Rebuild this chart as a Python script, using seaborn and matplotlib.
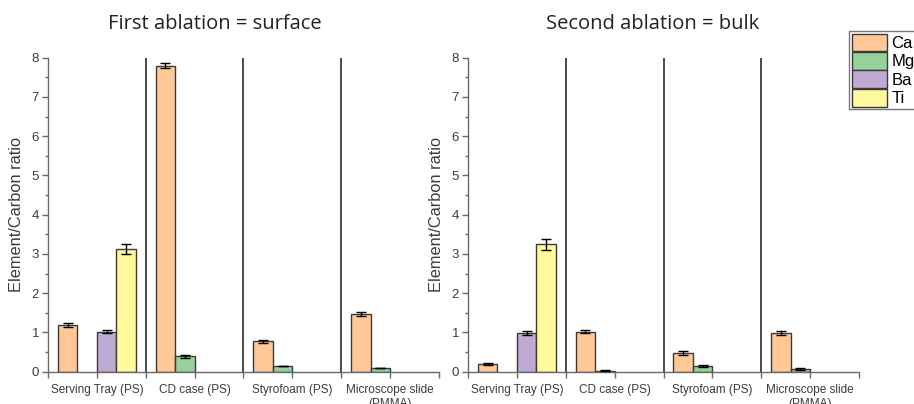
import numpy as np
import pandas as pd
import matplotlib
matplotlib.use("Agg")
import matplotlib.pyplot as plt
import seaborn as sns
from matplotlib.patches import Patch
from matplotlib.ticker import MultipleLocator, FixedLocator

nan = np.nan
materials = ["Serving Tray (PS)", "CD case (PS)", "Styrofoam (PS)", "Microscope slide\n(PMMA)"]
elements = ["Ca", "Mg", "Ba", "Ti"]
colors = ["#FFC896", "#96D09B", "#BEAAD2", "#FFFA9B"]

# First ablation = surface
surface_ca = [1.19, 7.80, 0.77, 1.47]
surface_ca_err = [0.06, 0.06, 0.05, 0.06]
surface_mg = [nan, 0.39, 0.145, 0.093]
surface_mg_err = [nan, 0.03, 0.01, 0.01]
surface_ba = [1.02, nan, nan, nan]
surface_ba_err = [0.04, nan, nan, nan]
surface_ti = [3.13, nan, nan, nan]
surface_ti_err = [0.12, nan, nan, nan]

# Second ablation = bulk
bulk_ca = [0.195, 1.02, 0.48, 0.98]
bulk_ca_err = [0.015, 0.04, 0.05, 0.05]
bulk_mg = [nan, 0.03, 0.145, 0.06]
bulk_mg_err = [nan, 0.015, 0.025, 0.025]
bulk_ba = [0.98, nan, nan, nan]
bulk_ba_err = [0.05, nan, nan, nan]
bulk_ti = [3.25, nan, nan, nan]
bulk_ti_err = [0.14, nan, nan, nan]

titles = ["First ablation = surface", "Second ablation = bulk"]
ylabel = "Element/Carbon ratio"


def make_frame(vals, errs):
    rows = []
    for el, v, e in zip(elements, vals, errs):
        for m, vv, ee in zip(materials, v, e):
            if not np.isnan(vv):
                rows.append({"material": m, "element": el, "value": vv, "err": ee})
    return pd.DataFrame(rows)


frames = [
    make_frame([surface_ca, surface_mg, surface_ba, surface_ti],
               [surface_ca_err, surface_mg_err, surface_ba_err, surface_ti_err]),
    make_frame([bulk_ca, bulk_mg, bulk_ba, bulk_ti],
               [bulk_ca_err, bulk_mg_err, bulk_ba_err, bulk_ti_err]),
]

plt.rcParams["font.family"] = ["Liberation Sans", "DejaVu Sans"]

fig = plt.figure(figsize=(9.14, 4.04), dpi=100)
ax_pos = [
    [48 / 914, 32.3 / 404, 391 / 914, 314 / 404],
    [468 / 914, 32.3 / 404, 391 / 914, 314 / 404],
]
title_x = [215 / 914, 653 / 914]

for k, df in enumerate(frames):
    ax = fig.add_axes(ax_pos[k])
    sns.barplot(data=df, x="material", y="value", hue="element",
                order=materials, hue_order=elements, palette=colors,
                saturation=1, errorbar=None, width=0.8,
                edgecolor="#3a3a3a", linewidth=1.0, legend=False, ax=ax)
    bar_conts = list(ax.containers)
    # error bars from the bars' own positions
    for cont in bar_conts:
        for p in cont.patches:
            cx = p.get_x() + p.get_width() / 2
            ht = p.get_height()
            if np.isnan(ht):
                continue
            cat = int(round(cx))
            row = df[(df["material"] == materials[cat]) & np.isclose(df["value"], ht)]
            if len(row) == 0:
                continue
            ax.errorbar(cx, row["value"].iloc[0], yerr=row["err"].iloc[0],
                        fmt="none", ecolor="black", elinewidth=1.0,
                        capsize=3.5, capthick=1.0, zorder=5)
    ax.set_xlim(-0.5, 3.5)
    ax.set_ylim(0, 8)
    for xs in [0.5, 1.5, 2.5]:
        ax.axvline(xs, color="#1a1a1a", lw=1.1, zorder=1)
    for s in ["top", "right"]:
        ax.spines[s].set_visible(False)
    for s in ["left", "bottom"]:
        ax.spines[s].set_color("#6a6a6a")
        ax.spines[s].set_linewidth(1.0)
    ax.yaxis.set_major_locator(MultipleLocator(1))
    ax.yaxis.set_minor_locator(MultipleLocator(0.5))
    ax.xaxis.set_minor_locator(FixedLocator([-0.5, 0.5, 1.5, 2.5, 3.5]))
    ax.tick_params(axis="y", which="major", length=4.5, width=1, color="#6a6a6a",
                   labelsize=9.5, labelcolor="#3c3c3c", pad=2)
    ax.tick_params(axis="y", which="minor", length=2.5, width=1, color="#6a6a6a")
    ax.tick_params(axis="x", which="both", length=4, width=1, color="#6a6a6a",
                   labelsize=8.5, labelcolor="#3c3c3c", pad=5)
    ax.set_xlabel("")
    ax.set_ylabel(ylabel, fontsize=11.8, color="#3c3c3c")
    ax.yaxis.set_label_coords(-0.062, 0.5)
    fig.text(title_x[k], 1 - 24 / 404, titles[k], ha="center", va="center",
             fontsize=14.5, family=["Open Sans", "DejaVu Sans"], color="#222222")

handles = [Patch(facecolor=c, edgecolor="#3a3a3a", linewidth=1.0) for c in colors]
leg = fig.legend(handles, elements, loc="upper left",
                 bbox_to_anchor=(849 / 914, 1 - 31 / 404),
                 bbox_transform=fig.transFigure,
                 fontsize=12, handlelength=2.1, handleheight=1.25,
                 labelspacing=0.05, handletextpad=0.3, borderpad=0.15,
                 borderaxespad=0, frameon=True, fancybox=False)
leg.get_frame().set_edgecolor("#555555")
leg.get_frame().set_linewidth(1.0)

fig.savefig("out.png", dpi=100)
